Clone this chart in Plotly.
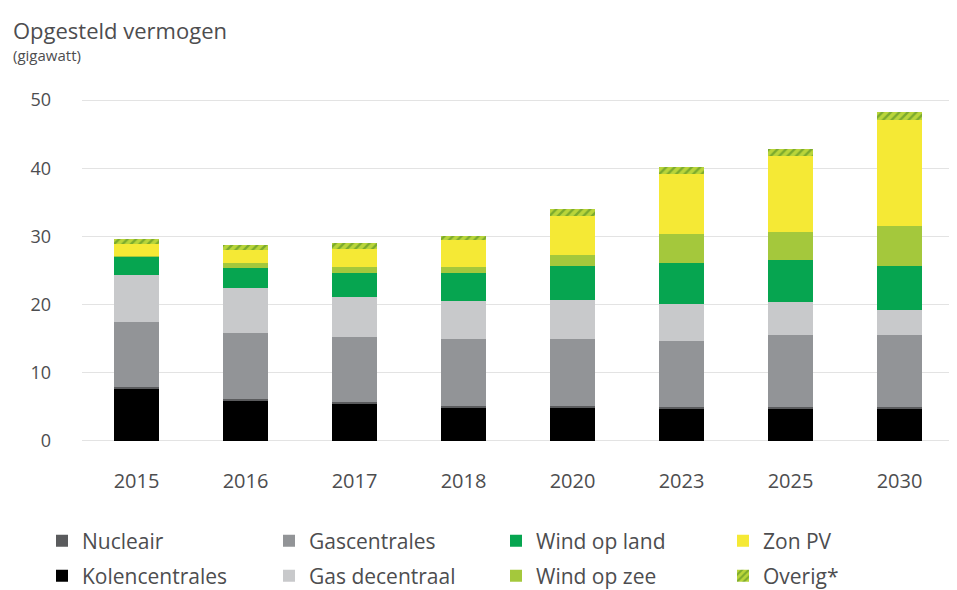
import plotly.graph_objects as go

years = ["2015", "2016", "2017", "2018", "2020", "2023", "2025", "2030"]
kolencentrales = [7.6, 5.9, 5.35, 4.9, 4.9, 4.75, 4.75, 4.75]
nucleair = [0.3, 0.3, 0.3, 0.3, 0.3, 0.3, 0.3, 0.3]
gascentrales = [9.6, 9.6, 9.6, 9.7, 9.8, 9.6, 10.45, 10.45]
gas_decentraal = [6.8, 6.6, 5.85, 5.7, 5.65, 5.5, 4.85, 3.75]
wind_op_land = [2.7, 2.9, 3.55, 4.1, 4.95, 5.95, 6.25, 6.35]
wind_op_zee = [0.15, 0.75, 0.85, 0.85, 1.65, 4.2, 4.05, 6.0]
zon_pv = [1.7, 1.95, 2.7, 3.95, 5.7, 8.9, 11.1, 15.5]
overig = [0.8, 0.7, 0.85, 0.6, 1.0, 1.05, 1.1, 1.15]
y_ticks = [0, 10, 20, 30, 40, 50]

FONT = "Open Sans"
TXT = "#4d4d4f"

# (name, values, color, legend, rank)
series = [
    ("Kolencentrales", kolencentrales, "#000000", "legend2", 1),
    ("Nucleair", nucleair, "#5a5b5d", "legend", 1),
    ("Gascentrales", gascentrales, "#929497", "legend", 2),
    ("Gas decentraal", gas_decentraal, "#c8c9cb", "legend2", 2),
    ("Wind op land", wind_op_land, "#06a550", "legend", 3),
    ("Wind op zee", wind_op_zee, "#a4c83c", "legend2", 3),
    ("Zon PV", zon_pv, "#f5e935", "legend", 4),
]

fig = go.Figure()
for name, vals, col, leg, rank in series:
    fig.add_trace(go.Bar(
        x=years, y=vals, name=name, legend=leg, legendrank=rank,
        marker=dict(color=col, line=dict(width=0)),
        width=0.41,
    ))
fig.add_trace(go.Bar(
    x=years, y=overig, name="Overig*", legend="legend2", legendrank=4,
    marker=dict(color="#b9d53a", line=dict(width=0),
                pattern=dict(shape="/", fgcolor="#3f7f1f", bgcolor="#b9d53a",
                             size=6, solidity=0.4)),
    width=0.41,
))

# page has an 8px body margin; the figure is sized to fit the window
O = 8
W, H = 957 - O, 590 - O
L, R, T, B = 82 - O, 3, 98 - O, 147
pw = W - L - R
ph = H - T - B

def px_x(px):
    return (px - O - L) / pw

def px_y(py):
    return (H - B - (py - O)) / ph

legend_common = dict(
    orientation="h", xanchor="left", yanchor="middle",
    font=dict(family=FONT, size=21, color=TXT),
    entrywidth=182, entrywidthmode="pixels",
    bgcolor="rgba(0,0,0,0)", itemclick=False, traceorder="normal",
)

fig.update_layout(
    width=W, height=H,
    margin=dict(l=L, r=R, t=T, b=B, pad=0, autoexpand=False),
    paper_bgcolor="white", plot_bgcolor="white",
    barmode="stack",
    font=dict(family=FONT, color=TXT),
    showlegend=True,
    legend=dict(x=px_x(42), y=px_y(541), **legend_common),
    legend2=dict(x=px_x(42), y=px_y(576), **legend_common),
    xaxis=dict(type="category", showgrid=False, zeroline=False, showline=False,
               ticks="", tickfont=dict(family=FONT, size=20, color=TXT),
               ticklabelstandoff=24),
    yaxis=dict(range=[-0.3, 50.3], tickvals=y_ticks, showgrid=True,
               gridcolor="#e3e3e3", gridwidth=1.2, zeroline=False,
               showline=False, ticks="",
               tickfont=dict(family=FONT, size=18, color=TXT),
               ticklabelstandoff=30),
    annotations=[
        dict(text="Opgesteld vermogen", xref="paper", yref="paper",
             x=px_x(11), y=px_y(30), xanchor="left", yanchor="middle",
             showarrow=False, font=dict(family=FONT, size=22, color=TXT)),
        dict(text="(gigawatt)", xref="paper", yref="paper",
             x=px_x(11), y=px_y(55), xanchor="left", yanchor="middle",
             showarrow=False, font=dict(family=FONT, size=15, color=TXT)),
    ],
)

fig.write_html("out.html")
